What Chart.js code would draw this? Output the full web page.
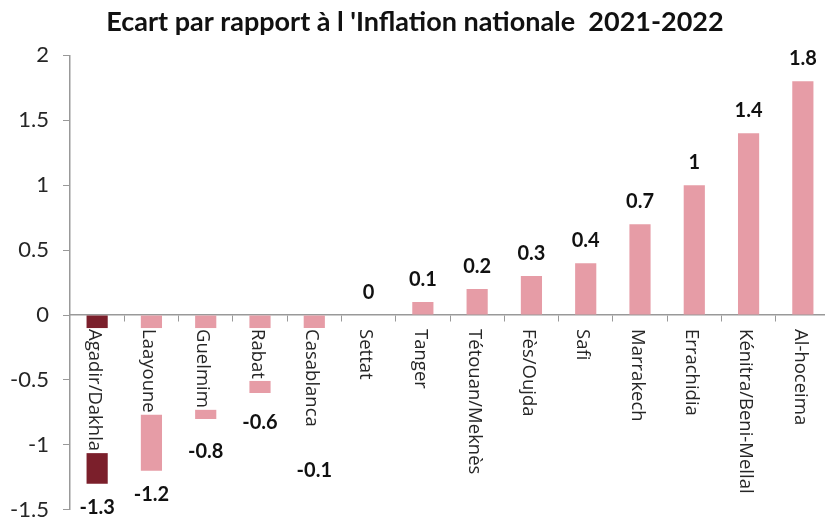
<!DOCTYPE html>
<html>
<head>
<meta charset="utf-8">
<script src="https://cdn.jsdelivr.net/npm/chart.js@4/dist/chart.umd.min.js"></script>
<style>
  html, body { margin: 0; padding: 0; background: #fff; overflow: hidden; }
  #wrap { width: 840px; height: 537px; }
</style>
</head>
<body>
<div id="wrap"><canvas id="myChart"></canvas></div>
<script>
var categories = ["Agadir/Dakhla", "Laayoune", "Guelmim", "Rabat", "Casablanca", "Settat", "Tanger",
  "Tétouan/Meknès", "Fès/Oujda", "Safi", "Marrakech", "Errachidia", "Kénitra/Beni-Mellal", "Al-hoceima"];
var ecart = [-1.3, -1.2, -0.8, -0.6, -0.1, 0, 0.1, 0.2, 0.3, 0.4, 0.7, 1, 1.4, 1.8];
var yTicks = [-1.5, -1, -0.5, 0, 0.5, 1, 1.5, 2];

var pink = "#e69ca6";
var darkRed = "#7b1f2b";
var catFont = "18.5px 'Open Sans'";
var valFont = "bold 20px Lato";

// category names written downwards from the zero line, on a white box, plus value labels
var labelPlugin = {
  id: 'labels',
  afterDatasetsDraw: function(chart){
    var ctx = chart.ctx;
    var meta = chart.getDatasetMeta(0);
    var y0 = chart.scales.y.getPixelForValue(0);
    ctx.save();
    meta.data.forEach(function(bar, i){
      ctx.font = catFont;
      var w = ctx.measureText(categories[i]).width;
      var top = y0 + 14;
      ctx.fillStyle = "#fff";
      ctx.fillRect(bar.x - bar.width/2 - 1, top - 1, bar.width + 2, w + 3);
      ctx.save();
      ctx.translate(bar.x - 3, top);
      ctx.rotate(Math.PI/2);
      ctx.fillStyle = "#262626";
      ctx.textAlign = "left";
      ctx.textBaseline = "middle";
      ctx.fillText(categories[i], 0, 0);
      ctx.restore();

      var v = ecart[i];
      var ly;
      if(v < 0){
        ly = Math.max(bar.y + 24, top + w + 44);
      } else {
        ly = bar.y - 23;
      }
      ctx.font = valFont;
      ctx.fillStyle = "#111";
      ctx.textAlign = "center";
      ctx.textBaseline = "middle";
      ctx.fillText(String(v), bar.x, ly);
    });
    ctx.restore();
  }
};

var ctx = document.getElementById('myChart');
var myChart = new Chart(ctx, {
  type: 'bar',
  data: {
    labels: categories,
    datasets: [{
      label: "Ecart",
      data: ecart,
      backgroundColor: function(c){ return c.dataIndex === 0 ? darkRed : pink; },
      barPercentage: 0.39,
      categoryPercentage: 1
    }]
  },
  options: {
    responsive: true,
    maintainAspectRatio: false,
    animation: false,
    layout: { padding: { left: 0, right: 10, bottom: 10, top: 0 } },
    plugins: {
      legend: { display: false },
      tooltip: { enabled: false },
      title: {
        display: true,
        text: "Ecart par rapport à l 'Inflation nationale  2021-2022",
        font: { family: 'Lato', size: 27, weight: 'bold' },
        color: '#111',
        padding: { top: 6, bottom: 17 }
      }
    },
    scales: {
      x: {
        position: { y: 0 },
        afterFit: function(s){ s.height = 0; },
        grid: { display: true, drawOnChartArea: false, drawTicks: true, tickLength: 6, color: '#999', offset: true },
        border: { display: true, color: '#999', width: 1.5 },
        ticks: { display: false }
      },
      y: {
        min: -1.5,
        max: 2,
        afterBuildTicks: function(s){ s.ticks = yTicks.map(function(v){ return { value: v }; }); },
        afterFit: function(s){ s.width = 70; },
        grid: { display: true, drawOnChartArea: false, drawTicks: true, tickLength: 7, color: '#999' },
        border: { display: true, color: '#999', width: 1.5 },
        ticks: {
          font: { family: 'Lato', size: 22 },
          color: '#262626',
          padding: 14,
          callback: function(v){ return String(v); }
        }
      }
    }
  },
  plugins: [labelPlugin]
});
</script>
</body>
</html>
